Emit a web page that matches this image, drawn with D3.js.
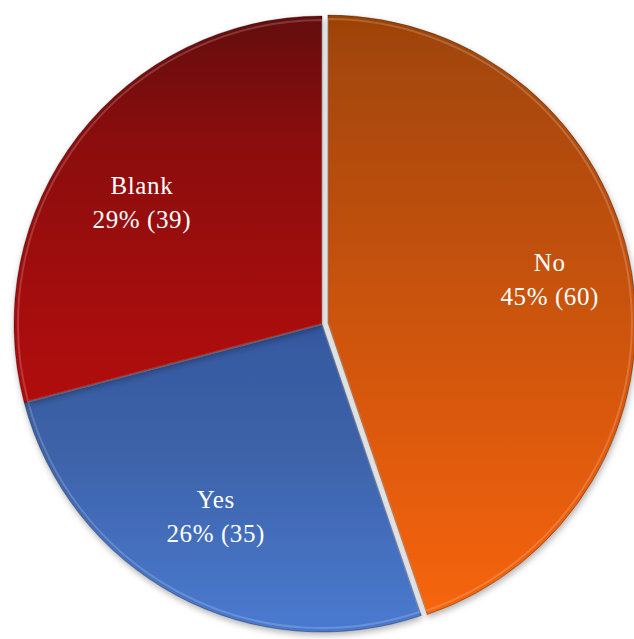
<!DOCTYPE html>
<html>
<head>
<meta charset="utf-8">
<script src="https://cdn.jsdelivr.net/npm/d3@7"></script>
<style>
  html, body { margin: 0; padding: 0; background: #ffffff; }
  svg { display: block; }
</style>
</head>
<body>
<svg id="chart" width="634" height="639"></svg>
<script>
// Data
const categories = ["No", "Yes", "Blank"];
const counts = [60, 35, 39];
const percentLabels = ["45%", "26%", "29%"];

// Styling (gradient stops per slice)
const gradStops = [
  [[0, "#9c4206"], [0.1, "#a84808"], [0.85, "#ec5f0e"], [1, "#f86812"]],
  [[0, "#2a4480"], [0.5, "#3558a0"], [0.7, "#3d62a8"], [1, "#4a7ad0"]],
  [[0, "#640808"], [0.2, "#8a0a0a"], [0.5, "#a80808"], [1, "#c80404"]]
];
const labelNudge = [[0, -5], [0, -4], [-2, 17]];

const W = 634, H = 639;
const cx = 322, cy = 324, R = 308;
const explode = [6, 0, 0];

const svg = d3.select("#chart");
const defs = svg.append("defs");

categories.forEach((c, i) => {
  const g = defs.append("linearGradient")
    .attr("id", "grad" + i)
    .attr("gradientUnits", "userSpaceOnUse")
    .attr("x1", 0).attr("y1", -R)
    .attr("x2", 0).attr("y2", R);
  gradStops[i].forEach(s => g.append("stop").attr("offset", s[0]).attr("stop-color", s[1]));
});

const shadow = defs.append("filter").attr("id", "shadow")
  .attr("x", "-10%").attr("y", "-10%").attr("width", "120%").attr("height", "120%");
shadow.append("feDropShadow").attr("dx", 1).attr("dy", 3)
  .attr("stdDeviation", 3).attr("flood-color", "#000").attr("flood-opacity", 0.3);

const pie = d3.pie().sort(null).value(d => d)(counts);
const arc = d3.arc().innerRadius(0).outerRadius(R);
const innerArc = d3.arc().innerRadius(0).outerRadius(R - 4);
const labelArc = d3.arc().innerRadius(R * 0.73).outerRadius(R * 0.73);

const root = svg.append("g").attr("transform", `translate(${cx},${cy})`);

const slices = root.selectAll("g.slice").data(pie).enter().append("g")
  .attr("class", "slice")
  .attr("transform", (d, i) => {
    const a = (d.startAngle + d.endAngle) / 2;
    return `translate(${Math.sin(a) * explode[i]},${-Math.cos(a) * explode[i]})`;
  });

slices.append("path")
  .attr("d", arc)
  .attr("fill", (d, i) => `url(#grad${i})`)
  .attr("filter", "url(#shadow)")
  .attr("stroke", "rgba(0,0,0,0.3)")
  .attr("stroke-width", 1);

// bevel highlight
slices.append("path")
  .attr("d", innerArc)
  .attr("fill", "none")
  .attr("stroke", "rgba(255,255,255,0.18)")
  .attr("stroke-width", 2);

// labels
const labels = slices.append("text")
  .attr("transform", (d, i) => {
    const [x, y] = labelArc.centroid(d);
    return `translate(${x + labelNudge[i][0]},${y + labelNudge[i][1]})`;
  })
  .attr("text-anchor", "middle")
  .attr("font-family", "'Liberation Serif', 'Times New Roman', serif")
  .attr("font-size", 25)
  .attr("letter-spacing", 0.6)
  .attr("fill", "#ffffff");

labels.append("tspan").attr("x", 0).attr("y", -10)
  .text((d, i) => categories[i]);
labels.append("tspan").attr("x", 0).attr("y", 24)
  .text((d, i) => `${percentLabels[i]} (${counts[i]})`);
</script>
</body>
</html>
